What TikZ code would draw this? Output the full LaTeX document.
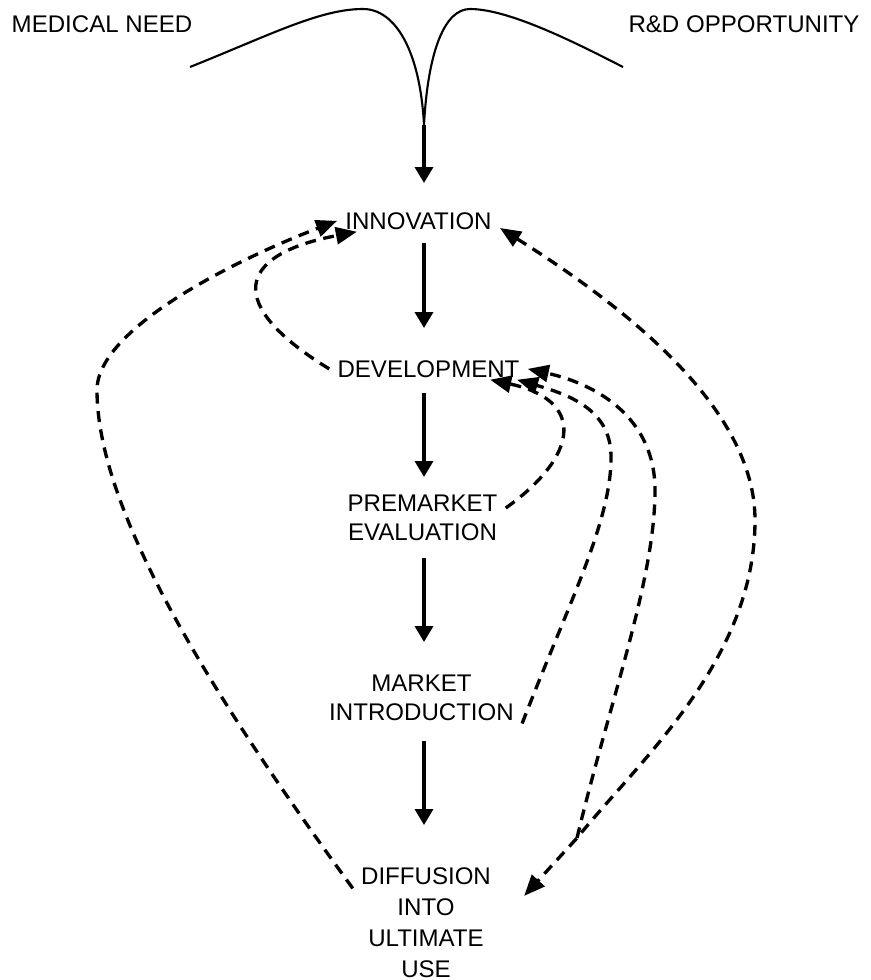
\documentclass[tikz,border=0pt]{standalone}
\usepackage{fontspec}
\setmainfont{Liberation Sans}
\usepackage{tikz}
\usetikzlibrary{arrows.meta}

\begin{document}
\begin{tikzpicture}[x=0.02cm, y=-0.02cm]
      \tikzstyle{every node}=[font=\fontsize{13.7}{16.5}\selectfont, align=center, anchor=north, inner xsep=0.16cm, inner ysep=0.04cm]
      \tikzstyle{flow}=[line width=2pt, -{Triangle[length=0.32cm, width=0.36cm]}]
      \tikzstyle{fback}=[line width=1.9pt, dash pattern=on 6.2pt off 4.3pt, >={Triangle[length=0.42cm, width=0.34cm]}, ->]
      \useasboundingbox (0,0) rectangle (870,980);
      \node (need) at (102,13) {MEDICAL NEED};
      \node (rnd) at (744,13) {R\&D OPPORTUNITY};
      \node (inno) at (418.5,210) {INNOVATION};
      \node (dev) at (428.5,358) {DEVELOPMENT};
      \node (premkt) at (422.5,493) {PREMARKET\\EVALUATION};
      \node (mkt) at (421.5,673) {MARKET\\INTRODUCTION};
      \node[font=\fontsize{13.7}{17.7}\selectfont] (diff) at (426,865) {DIFFUSION\\INTO\\ULTIMATE\\USE};
      \coordinate (funnel) at (424,125);
      \coordinate (split) at (577,838);
      \draw[line width=1.2pt] (190,67) .. controls (270,35) and (320,9) .. (363,9)
        .. controls (395,9) and (420,50) .. (funnel)
        .. controls (428,50) and (445,9) .. (470,9)
        .. controls (510,9) and (580,45) .. (623,67);
      \draw[flow, shorten >=0.54cm] (funnel) -- (inno.north -| funnel);
      \draw[flow, shorten <=0.22cm, shorten >=0.6cm] (inno.south -| funnel) -- (dev.north -| funnel);
      \draw[flow, shorten <=0.26cm, shorten >=0.32cm] (dev.south -| funnel) -- (premkt.north -| funnel);
      \draw[flow, shorten <=0.3cm, shorten >=0.62cm] (premkt.south -| funnel) -- (mkt.north -| funnel);
      \draw[flow, shorten <=0.36cm, shorten >=0.8cm] (mkt.south -| funnel) -- (diff.north -| funnel);
      \draw[fback] (diff.155) .. controls (230,720) and (97,520) .. (97,390)
        .. controls (97,330) and (230,262) .. (inno.west);
      \draw[fback] (dev.west) .. controls (225,305) and (235,255) .. (inno.190);
      \draw[fback] (premkt.7) .. controls (580,455) and (585,400) .. (dev.-10);
      \draw[fback] (mkt.south east) .. controls (570,600) and (612,520) .. (611,455)
        .. controls (610,410) and (570,395) .. (dev.-7);
      \draw[fback] (split) .. controls (610,700) and (655,580) .. (655,490)
        .. controls (655,420) and (600,385) .. (dev.east);
      \draw[fback, <->] (inno.-5) .. controls (630,310) and (755,410) .. (755,520)
        .. controls (755,660) and (640,760) .. (split) -- ([xshift=0.5cm]diff.20);
\end{tikzpicture}
\end{document}
